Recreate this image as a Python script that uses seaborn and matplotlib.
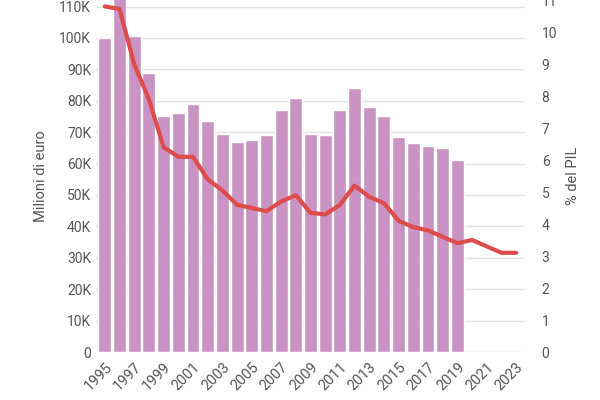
import matplotlib.pyplot as plt
import seaborn as sns
import numpy as np

years = list(range(1995, 2024))
bar_years = list(range(1995, 2020))
spesa = [100, 113, 100.5, 89, 75, 76, 79, 73.5, 69.5, 67, 67.5, 69, 77, 81, 69.5,
         69, 77, 84, 78, 75, 68.5, 66.5, 65.5, 65, 61]  # migliaia di milioni
pil = [10.8, 10.72, 9.0, 7.9, 6.4, 6.1, 6.1, 5.4, 5.05, 4.6, 4.5, 4.4, 4.7, 4.9, 4.35,
       4.3, 4.6, 5.2, 4.85, 4.65, 4.1, 3.9, 3.8, 3.6, 3.4, 3.5, 3.3, 3.1, 3.1]

sns.set_style("white")
plt.rcParams['font.family'] = ['Roboto', 'DejaVu Sans']
grey = '#555555'

fig = plt.figure(figsize=(6, 4), dpi=100)
ax = fig.add_axes([0.16, 0.12, 0.715, 0.88])
x = np.arange(len(years))
sns.barplot(x=x[:len(bar_years)], y=spesa, color='#c994c3', saturation=1, width=0.88,
            ax=ax, native_scale=True)
ax.set_xlim(-0.6, len(years) - 0.4)
ax.set_ylim(0, 112.1)
ax.set_yticks(range(0, 111, 10))
ax.set_yticklabels(['0'] + [f'{v}K' for v in range(10, 111, 10)])
ax.yaxis.grid(True, color='#e3e3e3', lw=1)
ax.set_axisbelow(True)
ax.set_ylabel('Milioni di euro', color=grey, fontsize=10.5, labelpad=8)
ax.set_xticks(x[::2])
ax.set_xticklabels([str(y) for y in years[::2]], rotation=45, ha='right',
                   rotation_mode='anchor')
ax.tick_params(axis='y', length=0, labelcolor=grey, labelsize=10)
ax.tick_params(axis='x', length=0, labelcolor=grey, labelsize=10.5, pad=6)
for s in ax.spines.values():
    s.set_visible(False)

ax2 = ax.twinx()
sns.lineplot(x=x, y=pil, color='#dd4b4b', lw=3, ax=ax2)
ax2.set_ylim(0, 10.86)
ax2.set_yticks(range(0, 12))
ax2.set_ylabel('% del PIL', color=grey, fontsize=10.5, labelpad=6)
ax2.tick_params(axis='y', length=0, labelcolor=grey, labelsize=10, pad=12)
for s in ax2.spines.values():
    s.set_visible(False)

fig.savefig('out.png')
